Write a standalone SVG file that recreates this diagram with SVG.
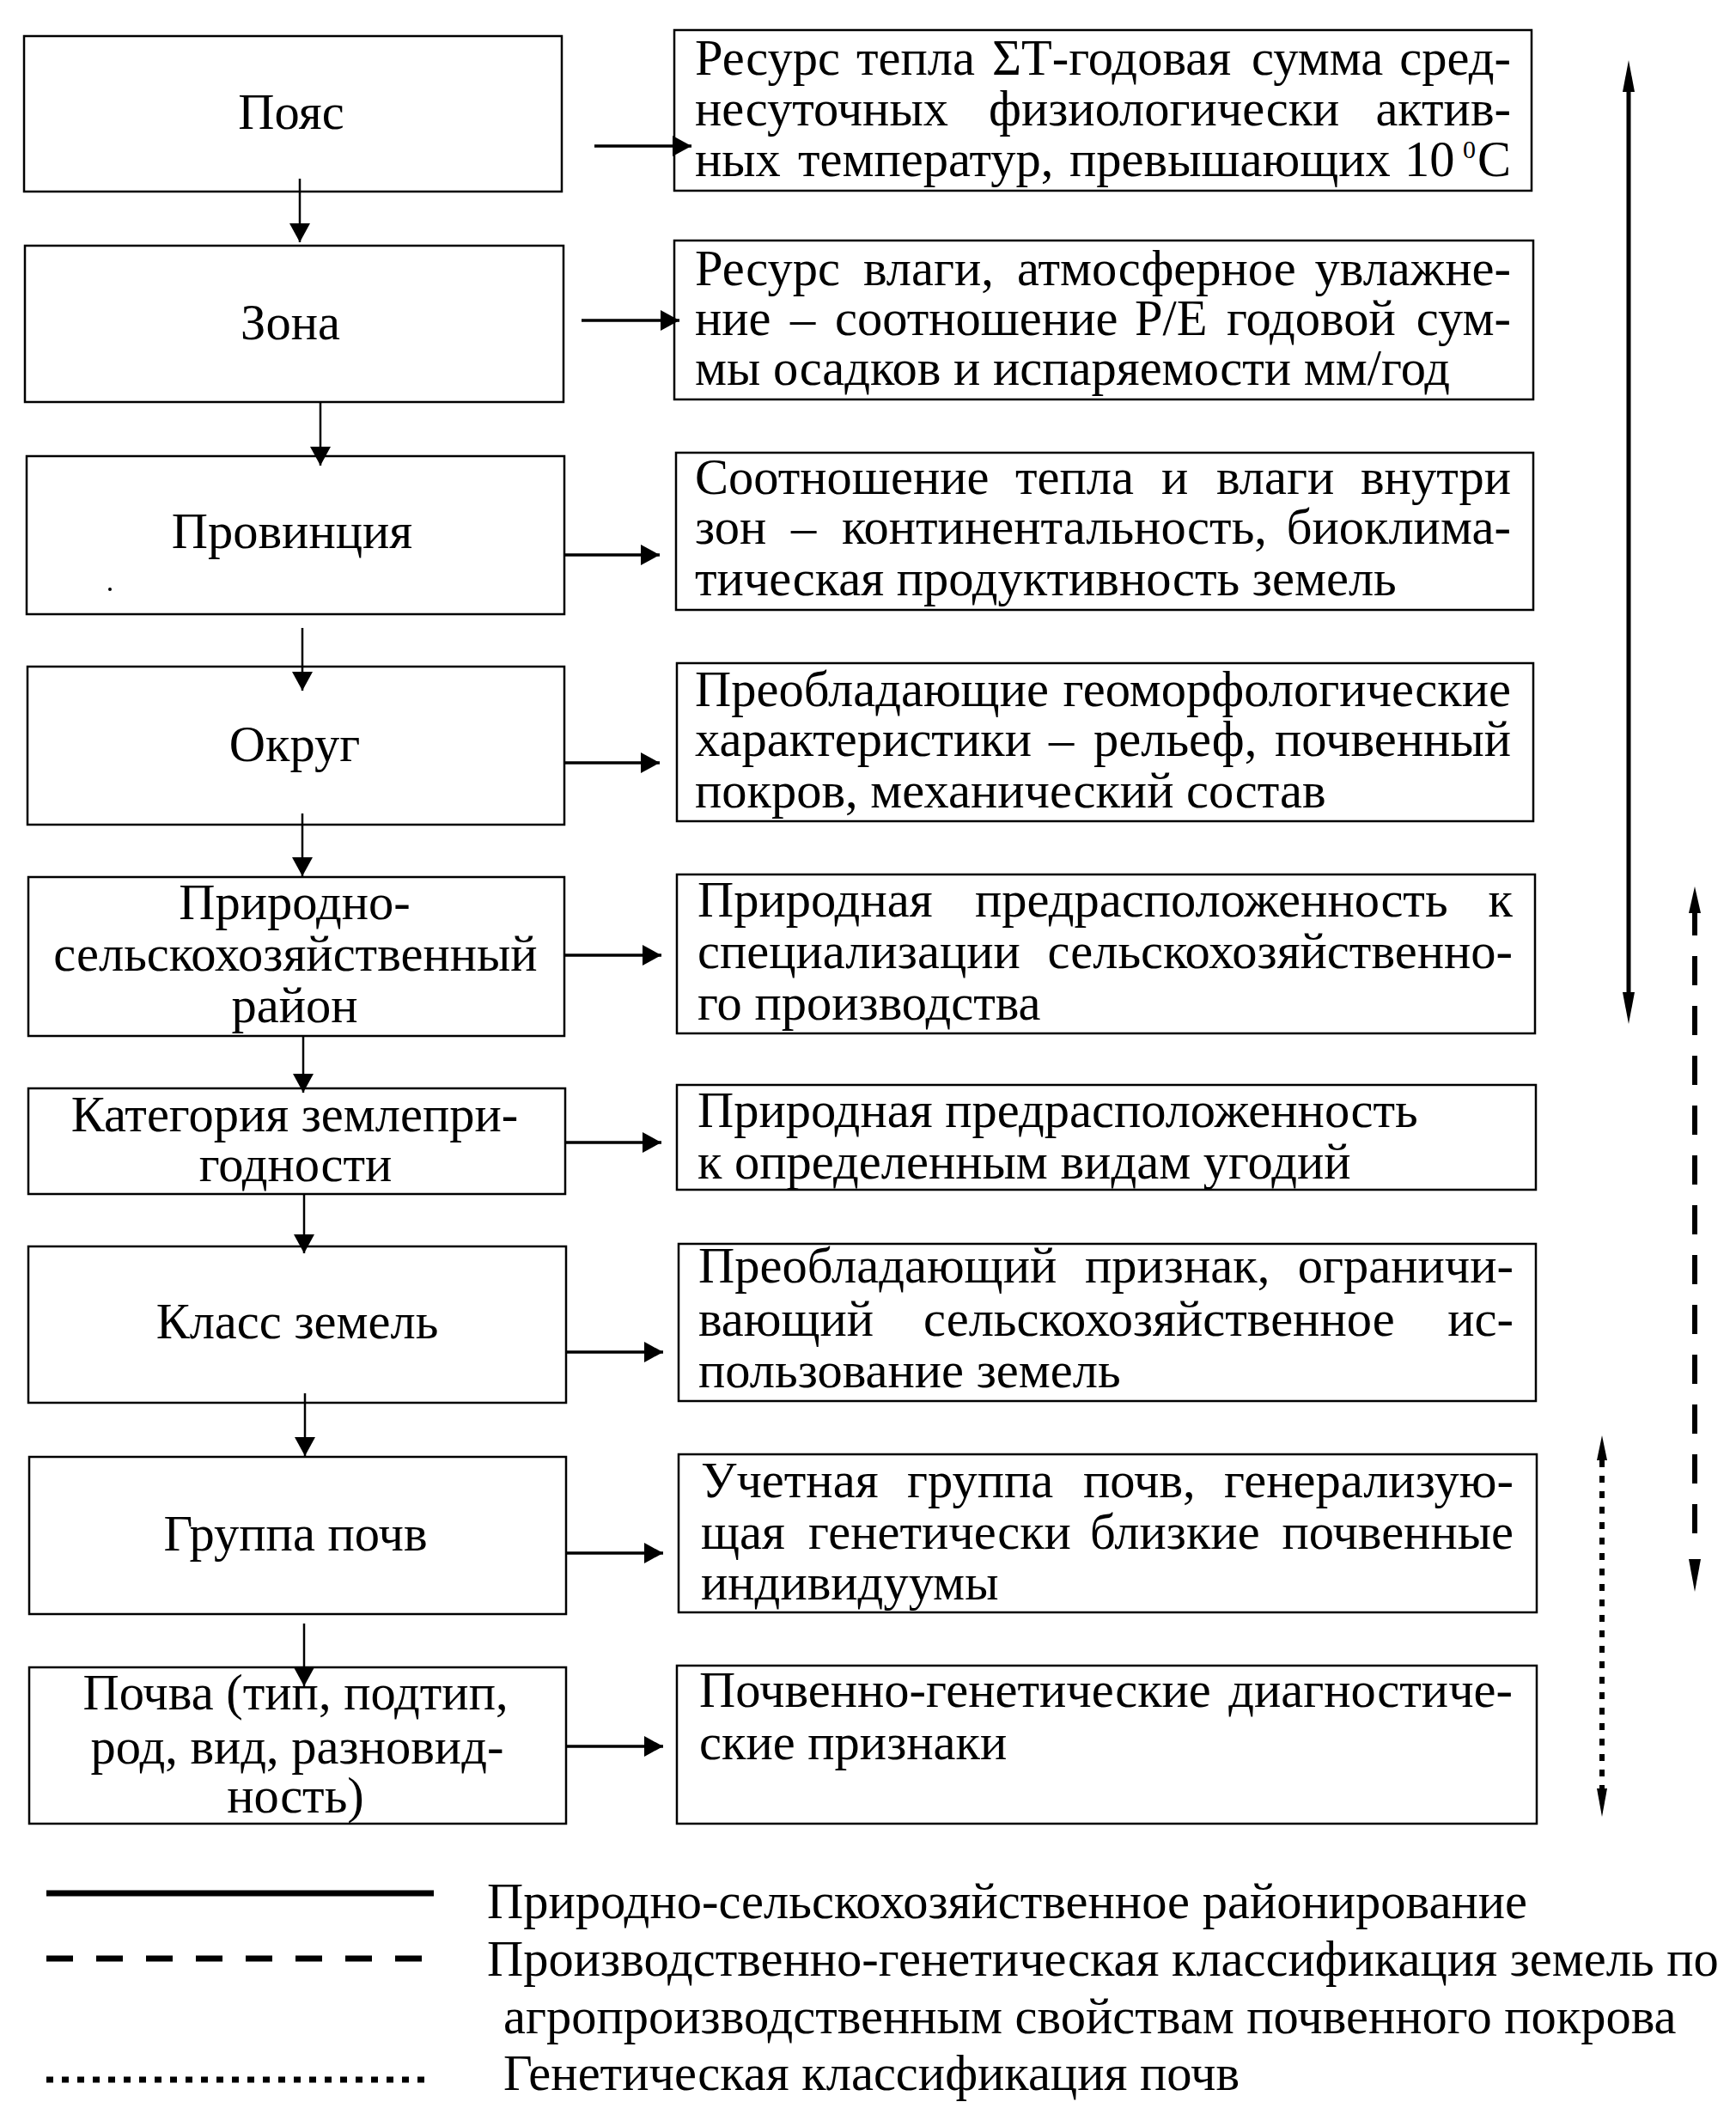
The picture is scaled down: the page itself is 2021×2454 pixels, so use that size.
<svg xmlns="http://www.w3.org/2000/svg" width="2021" height="2454" viewBox="0 0 2021 2454">
<defs>
<style>
.bg{fill:#fff}
.box{fill:none;stroke:#000;stroke-width:2.5}
.t{font-family:"Liberation Serif","Times New Roman",serif;font-size:58.5px;fill:#000}
.c{text-anchor:middle}
.e{text-anchor:end}
.sup{font-size:30px}
.ln{stroke:#000;fill:none}
.h{stroke-width:3.5}
.v{stroke-width:2.5}
.hd{fill:#000;stroke:none}
</style>
<marker id="ah" viewBox="0 0 22 24" refX="22" refY="12" markerWidth="22" markerHeight="24" markerUnits="userSpaceOnUse" orient="auto">
<path d="M0,0 L22,12 L0,24 Z" fill="#000"/>
</marker>
</defs>
<rect class="bg" x="0" y="0" width="2021" height="2454"/>

<g id="n-poyas"><rect class="box" x="28" y="42" width="626" height="181"/><text class="t c" x="339" y="150">Пояс</text></g>
<g id="n-zona"><rect class="box" x="29" y="286" width="627" height="182"/><text class="t c" x="338" y="395">Зона</text></g>
<g id="n-provinciya"><rect class="box" x="31" y="531" width="626" height="184"/><text class="t c" x="340" y="638">Провинция</text></g>
<g id="n-okrug"><rect class="box" x="32" y="776" width="625" height="184"/><text class="t c" x="343" y="886">Округ</text></g>
<g id="n-rayon"><rect class="box" x="33" y="1021" width="624" height="185"/><text class="t c" x="343" y="1070">Природно-</text><text class="t c" x="344" y="1130">сельскохозяйственный</text><text class="t c" x="343" y="1190">район</text></g>
<g id="n-kategoriya"><rect class="box" x="33" y="1267" width="625" height="123"/><text class="t c" x="343" y="1317">Категория землепри-</text><text class="t c" x="344" y="1375">годности</text></g>
<g id="n-klass"><rect class="box" x="33" y="1451" width="626" height="182"/><text class="t c" x="346" y="1558">Класс земель</text></g>
<g id="n-gruppa"><rect class="box" x="34" y="1696" width="625" height="183"/><text class="t c" x="344" y="1805">Группа почв</text></g>
<g id="n-pochva"><rect class="box" x="34" y="1941" width="625" height="182"/><text class="t c" x="344" y="1990">Почва (тип, подтип,</text><text class="t c" x="346" y="2053">род, вид, разновид-</text><text class="t c" x="344" y="2110">ность)</text></g>

<g id="d-teplo"><rect class="box" x="785" y="35" width="998" height="187"/>
<text class="t" y="87"><tspan x="809">Ресурс</tspan><tspan x="997">тепла</tspan><tspan x="1155">ΣТ-годовая</tspan><tspan x="1457">сумма</tspan></text>
<text class="t e" x="1759" y="87">сред-</text>
<text class="t" y="146"><tspan x="809">несуточных</tspan><tspan x="1151">физиологически</tspan></text>
<text class="t e" x="1759" y="146">актив-</text>
<text class="t" y="205"><tspan x="809">ных</tspan><tspan x="929">температур,</tspan><tspan x="1245">превышающих</tspan><tspan x="1635">10</tspan></text>
<text class="t sup" x="1703" y="184">0</text>
<text class="t e" x="1759" y="205">С</text>
</g>
<g id="d-vlaga"><rect class="box" x="785" y="280" width="1000" height="185"/>
<text class="t" y="332"><tspan x="809">Ресурс</tspan><tspan x="1005">влаги,</tspan><tspan x="1184">атмосферное</tspan></text>
<text class="t e" x="1759" y="332">увлажне-</text>
<text class="t" y="390"><tspan x="809">ние</tspan><tspan x="920">–</tspan><tspan x="972">соотношение</tspan><tspan x="1321">Р/Е</tspan><tspan x="1428">годовой</tspan></text>
<text class="t e" x="1759" y="390">сум-</text>
<text class="t" x="809" y="448">мы осадков и испаряемости мм/год</text>
</g>
<g id="d-sootnoshenie"><rect class="box" x="787" y="527" width="998" height="183"/>
<text class="t" y="575"><tspan x="809">Соотношение</tspan><tspan x="1182">тепла</tspan><tspan x="1352">и</tspan><tspan x="1416">влаги</tspan></text>
<text class="t e" x="1759" y="575">внутри</text>
<text class="t" y="633"><tspan x="809">зон</tspan><tspan x="921">–</tspan><tspan x="980">континентальность,</tspan></text>
<text class="t e" x="1759" y="633">биоклима-</text>
<text class="t" x="809" y="693">тическая продуктивность земель</text>
</g>
<g id="d-geomorf"><rect class="box" x="788" y="772" width="997" height="184"/>
<text class="t" x="809" y="822">Преобладающие</text>
<text class="t e" x="1759" y="822">геоморфологические</text>
<text class="t" y="880"><tspan x="809">характеристики</tspan><tspan x="1221">–</tspan><tspan x="1273">рельеф,</tspan></text>
<text class="t e" x="1759" y="880">почвенный</text>
<text class="t" x="809" y="940">покров, механический состав</text>
</g>
<g id="d-specializ"><rect class="box" x="788" y="1018" width="999" height="185"/>
<text class="t" y="1067"><tspan x="812">Природная</tspan><tspan x="1135">предрасположенность</tspan></text>
<text class="t e" x="1761" y="1067">к</text>
<text class="t" x="812" y="1127">специализации</text>
<text class="t e" x="1761" y="1127">сельскохозяйственно-</text>
<text class="t" x="812" y="1187">го производства</text>
</g>
<g id="d-ugodya"><rect class="box" x="788" y="1263" width="1000" height="122"/>
<text class="t" x="812" y="1312">Природная предрасположенность</text>
<text class="t" x="812" y="1372">к определенным видам угодий</text>
</g>
<g id="d-priznak"><rect class="box" x="790" y="1448" width="998" height="183"/>
<text class="t" y="1493"><tspan x="813">Преобладающий</tspan><tspan x="1263">признак,</tspan></text>
<text class="t e" x="1762" y="1493">ограничи-</text>
<text class="t" y="1555"><tspan x="813">вающий</tspan><tspan x="1075">сельскохозяйственное</tspan></text>
<text class="t e" x="1762" y="1555">ис-</text>
<text class="t" x="813" y="1615">пользование земель</text>
</g>
<g id="d-uchetnaya"><rect class="box" x="790" y="1693" width="999" height="184"/>
<text class="t" y="1743"><tspan x="816">Учетная</tspan><tspan x="1056">группа</tspan><tspan x="1261">почв,</tspan></text>
<text class="t e" x="1762" y="1743">генерализую-</text>
<text class="t" y="1803"><tspan x="816">щая</tspan><tspan x="941">генетически</tspan><tspan x="1269">близкие</tspan></text>
<text class="t e" x="1762" y="1803">почвенные</text>
<text class="t" x="816" y="1862">индивидуумы</text>
</g>
<g id="d-diagnost"><rect class="box" x="788" y="1939" width="1001" height="184"/>
<text class="t" x="814" y="1987">Почвенно-генетические</text>
<text class="t e" x="1761" y="1987">диагностиче-</text>
<text class="t" x="814" y="2048">ские признаки</text>
</g>

<circle cx="128" cy="686" r="2" fill="#000"/>

<g id="connectors">
<line class="ln v" x1="349" y1="208" x2="349" y2="282" marker-end="url(#ah)"/>
<line class="ln v" x1="373" y1="468" x2="373" y2="542" marker-end="url(#ah)"/>
<line class="ln v" x1="352" y1="731" x2="352" y2="804" marker-end="url(#ah)"/>
<line class="ln v" x1="352" y1="947" x2="352" y2="1020" marker-end="url(#ah)"/>
<line class="ln v" x1="353" y1="1206" x2="353" y2="1272" marker-end="url(#ah)"/>
<line class="ln v" x1="354" y1="1390" x2="354" y2="1459" marker-end="url(#ah)"/>
<line class="ln v" x1="355" y1="1622" x2="355" y2="1695" marker-end="url(#ah)"/>
<line class="ln v" x1="354" y1="1890" x2="354" y2="1963" marker-end="url(#ah)"/>

<line class="ln h" x1="692" y1="170" x2="805" y2="170" marker-end="url(#ah)"/>
<line class="ln h" x1="677" y1="373" x2="791" y2="373" marker-end="url(#ah)"/>
<line class="ln h" x1="657" y1="646" x2="768" y2="646" marker-end="url(#ah)"/>
<line class="ln h" x1="657" y1="888" x2="768" y2="888" marker-end="url(#ah)"/>
<line class="ln h" x1="657" y1="1112" x2="770" y2="1112" marker-end="url(#ah)"/>
<line class="ln h" x1="659" y1="1330" x2="770" y2="1330" marker-end="url(#ah)"/>
<line class="ln h" x1="660" y1="1574" x2="772" y2="1574" marker-end="url(#ah)"/>
<line class="ln h" x1="660" y1="1808" x2="772" y2="1808" marker-end="url(#ah)"/>
<line class="ln h" x1="659" y1="2033" x2="772" y2="2033" marker-end="url(#ah)"/>

<line class="ln" x1="1896" y1="100" x2="1896" y2="1160" stroke-width="5"/>
<polygon class="hd" points="1896,70 1889,107 1903,107"/>
<polygon class="hd" points="1896,1192 1889,1155 1903,1155"/>

<line class="ln" x1="1973" y1="1055" x2="1973" y2="1790" stroke-width="6" stroke-dasharray="34 24"/>
<polygon class="hd" points="1973,1032 1966,1063 1980,1063"/>
<polygon class="hd" points="1973,1853 1966,1815 1980,1815"/>

<line class="ln" x1="1865" y1="1700" x2="1865" y2="2082" stroke-width="6" stroke-dasharray="8 10"/>
<polygon class="hd" points="1865,1671 1859,1700 1871,1700"/>
<polygon class="hd" points="1865,2115 1859,2082 1871,2082"/>
</g>

<g id="legend">
<line class="ln" x1="54" y1="2204" x2="505" y2="2204" stroke-width="7"/>
<text class="t" x="567" y="2233">Природно-сельскохозяйственное районирование</text>
<line class="ln" x1="54" y1="2280" x2="496" y2="2280" stroke-width="7" stroke-dasharray="31 27"/>
<text class="t" x="567" y="2300">Производственно-генетическая классификация земель по</text>
<text class="t" x="586" y="2367">агропроизводственным свойствам почвенного покрова</text>
<line class="ln" x1="54" y1="2421" x2="496" y2="2421" stroke-width="7" stroke-dasharray="8 10"/>
<text class="t" x="586" y="2433">Генетическая классификация почв</text>
</g>
</svg>
